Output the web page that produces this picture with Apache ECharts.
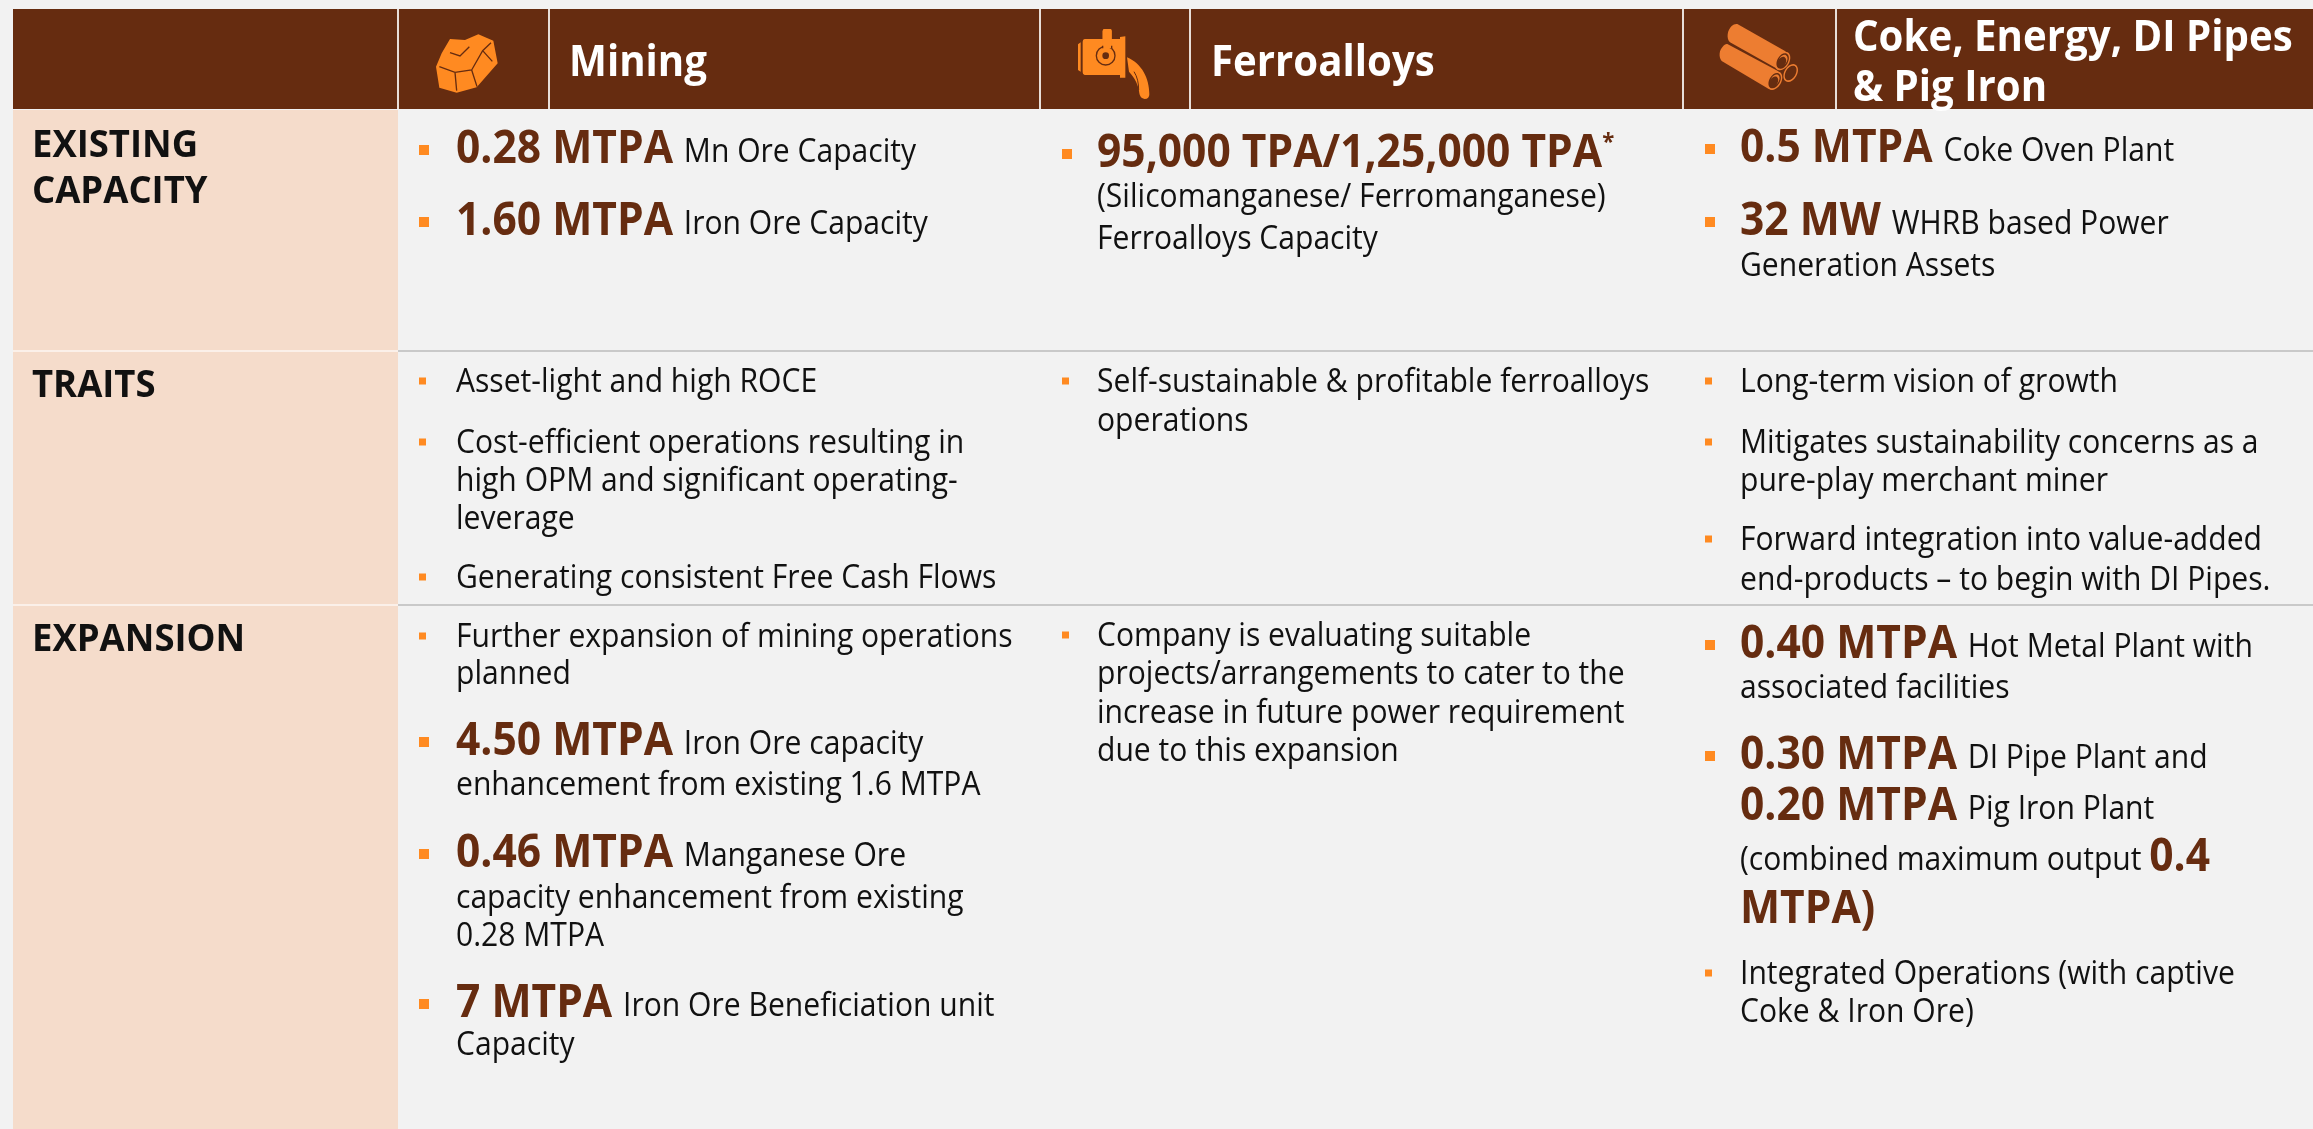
<!DOCTYPE html>
<html>
<head>
<meta charset="utf-8">
<style>
html, body { margin: 0; padding: 0; background: #f2f2f2; }
#chart { width: 2313px; height: 1129px; }
</style>
<script src="https://cdn.jsdelivr.net/npm/echarts@6/dist/echarts.min.js"></script>
</head>
<body>
<div id="chart"></div>
<script>
// text of the table, |...| marks the big brown figures
const rowLabels = [['EXISTING', 'CAPACITY'], ['TRAITS'], ['EXPANSION']]
const columnTitles = [['Mining'], ['Ferroalloys'], ['Coke, Energy, DI Pipes', '& Pig Iron']]

const miningExisting = [['|0.28 MTPA| Mn Ore Capacity'], ['|1.60 MTPA| Iron Ore Capacity']]
const miningTraits = [
  ['Asset-light and high ROCE'],
  ['Cost-efficient operations resulting in', 'high OPM and significant operating-', 'leverage'],
  ['Generating consistent Free Cash Flows'],
]
const miningExpansion = [
  ['Further expansion of mining operations', 'planned'],
  ['|4.50 MTPA| Iron Ore capacity', 'enhancement from existing 1.6 MTPA'],
  ['|0.46 MTPA| Manganese Ore', 'capacity enhancement from existing', '0.28 MTPA'],
  ['|7 MTPA| Iron Ore Beneficiation unit', 'Capacity'],
]
const ferroExisting = [['|95,000 TPA/1,25,000 TPA|^*^', '(Silicomanganese/ Ferromanganese)', 'Ferroalloys Capacity']]
const ferroTraits = [['Self-sustainable & profitable ferroalloys', 'operations']]
const ferroExpansion = [
  ['Company is evaluating suitable', 'projects/arrangements to cater to the', 'increase in future power requirement', 'due to this expansion'],
]
const cokeExisting = [['|0.5 MTPA| Coke Oven Plant'], ['|32 MW| WHRB based Power', 'Generation Assets']]
const cokeTraits = [
  ['Long-term vision of growth'],
  ['Mitigates sustainability concerns as a', 'pure-play merchant miner'],
  ['Forward integration into value-added', 'end-products – to begin with DI Pipes.'],
]
const cokeExpansion = [
  ['|0.40 MTPA| Hot Metal Plant with', 'associated facilities'],
  ['|0.30 MTPA| DI Pipe Plant and', '|0.20 MTPA| Pig Iron Plant', '(combined maximum output |0.4|', '|MTPA)|'],
  ['Integrated Operations (with captive', 'Coke & Iron Ore)'],
]

// layout, px in the 2313x1129 frame
const BROWN = '#662c10'
const ORANGE = '#ff8a21'
const PIPE = '#ed7d31'
const FONT = '"Open Sans", sans-serif'
const MID = 0.31 // canvas middle sits this many ems above the baseline

const styles = {
  big: { size: 46, weight: 700, color: BROWN, fit: 0.925, dy: 0 },
  body: { size: 32, weight: 400, color: '#111', fit: 0.94, dy: -1 },
  label: { size: 37, weight: 700, color: '#111', fit: 0.985, dy: 0 },
  head: { size: 43, weight: 700, color: '#fff', fit: 0.935, dy: 0 },
  sup: { size: 24, weight: 700, color: BROWN, fit: 0.92, dy: 0 },
}

const cells = [
  { x: 456, mark: 419, bullets: miningExisting, base: [[164], [236]] },
  { x: 456, mark: 419, bullets: miningTraits, base: [[394], [455, 493, 531], [590]] },
  { x: 456, mark: 419, bullets: miningExpansion, base: [[649, 686], [756, 797], [868, 910, 948], [1018, 1057]] },
  { x: 1097, mark: 1062, bullets: ferroExisting, base: [[168, 209, 251]] },
  { x: 1097, mark: 1062, bullets: ferroTraits, base: [[394, 433]] },
  { x: 1097, mark: 1062, bullets: ferroExpansion, base: [[648, 686, 725, 763]] },
  { x: 1740, mark: 1705, bullets: cokeExisting, base: [[163], [236, 278]] },
  { x: 1740, mark: 1705, bullets: cokeTraits, base: [[394], [455, 493], [552, 592]] },
  { x: 1740, mark: 1705, bullets: cokeExpansion, base: [[659, 700], [770, 821, 872, 924], [986, 1024]] },
]

const labelBase = [[157, 203], [397], [651]]
const headBase = [[77], [77], [52, 102]]
const headX = [569, 1211, 1853]
const rowY = [109, 351, 605, 1129]

const measure = document.createElement('canvas').getContext('2d')

function textEl(str, x, baseline, st) {
  measure.font = st.weight + ' ' + st.size + 'px ' + FONT
  return {
    el: {
      type: 'text',
      x: x,
      y: Math.round(baseline + st.dy - MID * st.size),
      scaleX: st.fit,
      z: 5,
      style: {
        text: str,
        x: 0,
        y: 0,
        fill: st.color,
        fontSize: st.size,
        fontWeight: st.weight,
        fontFamily: FONT,
        verticalAlign: 'middle',
      },
    },
    width: measure.measureText(str).width * st.fit,
  }
}

function rect(x, y, w, h, fill, z) {
  return { type: 'rect', z: z || 1, shape: { x: x, y: y, width: w, height: h }, style: { fill: fill } }
}

// one line, alternating runs: plain |big| plain ^sup^
function lineEls(line, x, baseline) {
  const els = []
  let cx = x
  let afterBig = false
  line.split(/(\|[^|]*\||\^[^^]*\^)/).forEach(part => {
    if (!part) return
    let st = styles.body
    let str = part
    let y = baseline
    if (part[0] === '|') {
      st = styles.big
      str = part.slice(1, -1)
    } else if (part[0] === '^') {
      st = styles.sup
      str = part.slice(1, -1)
      y = baseline - 18
    } else if (afterBig && part[0] === ' ') {
      cx += 3
    }
    const t = textEl(str, cx, y, st)
    els.push(t.el)
    cx += t.width
    afterBig = st === styles.big
  })
  return els
}

function buildGraphic() {
  const out = []
  out.push(rect(0, 0, 2313, 1129, '#f2f2f2', 0))
  // header band and dividers
  out.push(rect(13, 9, 2300, 100, BROWN))
  ;[398, 549, 1040, 1190, 1683, 1836].forEach(x => out.push(rect(x - 1, 9, 2, 100, '#e8ded8', 2)))
  // label column
  for (let i = 0; i < 3; i++) {
    out.push(rect(13, rowY[i] + 1, 385, rowY[i + 1] - rowY[i] - 1, '#f5dccb'))
  }
  out.push(rect(13, 350, 385, 2, '#fbf0e9', 2))
  out.push(rect(13, 604, 385, 2, '#fbf0e9', 2))
  out.push(rect(398, 350, 1915, 2, '#c9c9c9', 2))
  out.push(rect(398, 604, 1915, 2, '#c9c9c9', 2))

  rowLabels.forEach((lines, i) => {
    lines.forEach((l, j) => out.push(textEl(l, 32, labelBase[i][j], styles.label).el))
  })
  columnTitles.forEach((lines, i) => {
    lines.forEach((l, j) => out.push(textEl(l, headX[i], headBase[i][j], styles.head).el))
  })
  cells.forEach(cell => {
    cell.bullets.forEach((lines, b) => {
      const hasBig = lines[0].indexOf('|') === 0
      const sz = hasBig ? 10 : 7
      const by = cell.base[b][0] - (hasBig ? 14 : 13)
      out.push(rect(cell.mark, by - sz / 2, sz, sz, ORANGE, 4))
      lines.forEach((l, j) => {
        lineEls(l, cell.x, cell.base[b][j]).forEach(e => out.push(e))
      })
    })
  })
  return out
}

// the three header icons, paths in 3x crop units
const path = (d, fill, stroke, lw) => ({
  type: 'path',
  shape: { pathData: d },
  style: { fill: fill || 'none', stroke: stroke || 'none', lineWidth: lw || 0 },
})
const ell = (x, y, rx, ry, fill) => ({
  type: 'ellipse',
  x: x,
  y: y,
  rotation: -Math.PI / 6,
  shape: { cx: 0, cy: 0, rx: rx, ry: ry },
  style: { fill: fill },
})
const iconParts = {
  rock: {
    x: 410, y: 20,
    parts: [
      path('M120 57L165 60L205 43L250 62L263 130L200 202L140 218L88 203L78 140L95 100Z', ORANGE),
      path('M88 140L135 157L185 150L218 92L243 68M218 92L247 124M185 150L201 200M135 157L140 212M120 98L150 108L178 80', 'none', BROWN, 4),
    ],
  },
  ladle: {
    x: 1060, y: 15,
    parts: [
      path('M54 88L62 82L62 170L54 165Z', ORANGE),
      path('M74 72L180 72L180 66L196 64L196 188L180 188L180 180L74 180Q68 180 68 172L68 80Q68 72 74 72Z', ORANGE),
      path('M128 48Q128 42 134 42L150 42Q155 42 155 48L155 95L128 95Z', ORANGE),
      { type: 'circle', shape: { cx: 137, cy: 122, r: 28 }, style: { fill: ORANGE, stroke: BROWN, lineWidth: 4 } },
      path('M128 48Q128 42 134 42L150 42Q155 42 155 48L155 100L128 100Z', ORANGE),
      path('M128 92L128 100M155 92L155 100', 'none', BROWN, 4),
      { type: 'circle', shape: { cx: 137, cy: 122, r: 10 }, style: { fill: BROWN } },
      path('M201 127C245 145 268 190 268 238Q268 252 254 252Q240 250 238 235C236 210 225 190 207 170Z', ORANGE),
      path('M222 170C232 185 236 205 236 225', 'none', BROWN, 3),
    ],
  },
  pipes: {
    x: 1700, y: 15,
    parts: [
      path('M112 27L255 108C268 118 268 140 250 160C240 168 232 165 226 158L90 82C78 70 82 45 95 33C100 28 106 26 112 27Z', PIPE),
      path('M82 87L228 165C245 172 248 190 232 212C222 228 210 225 200 218L65 138C55 125 58 105 68 95C73 88 78 86 82 87Z', PIPE),
      ell(248, 138, 20, 30, PIPE),
      ell(248, 138, 16, 25, BROWN),
      ell(249, 136, 12, 18, PIPE),
      ell(245, 142, 12, 18, BROWN),
      ell(224, 197, 20, 30, PIPE),
      ell(224, 197, 16, 25, BROWN),
      ell(225, 195, 12, 18, PIPE),
      ell(221, 201, 12, 18, BROWN),
      ell(272, 174, 19, 29, PIPE),
      ell(272, 174, 15, 24, BROWN),
    ],
  },
}
const iconNames = ['rock', 'ladle', 'pipes']

const chart = echarts.init(document.getElementById('chart'), null, { renderer: 'canvas' })
chart.setOption({
  animation: false,
  backgroundColor: '#f2f2f2',
  graphic: { elements: buildGraphic() },
  series: [
    {
      type: 'custom',
      coordinateSystem: 'none',
      z: 20,
      silent: true,
      data: iconNames.map((n, i) => [i]),
      renderItem(params) {
        const icon = iconParts[iconNames[params.dataIndex]]
        return {
          type: 'group',
          x: icon.x,
          y: icon.y,
          scaleX: 1 / 3,
          scaleY: 1 / 3,
          children: icon.parts,
        }
      },
    },
  ],
})
</script>
</body>
</html>
